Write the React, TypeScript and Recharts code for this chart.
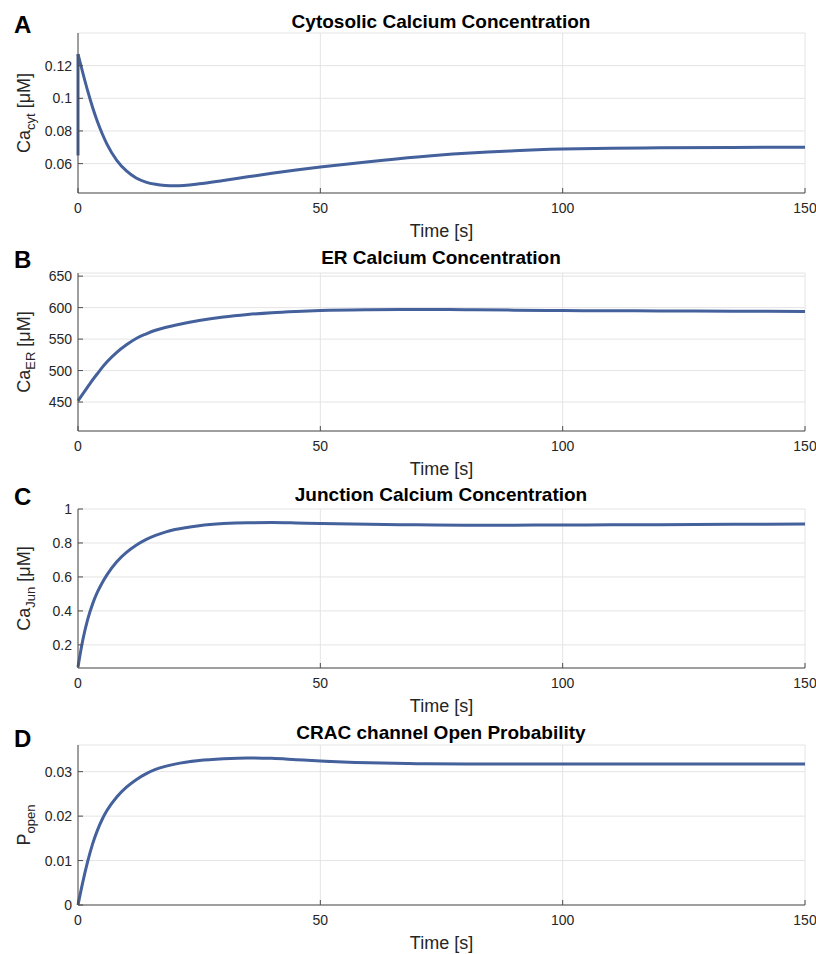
import { CartesianGrid, Line, LineChart, XAxis, YAxis } from "recharts";

const FONT = '"Liberation Sans", Arial, Helvetica, sans-serif';
const LINE_COLOR = "#44619c";
const AXIS_COLOR = "#4d4d4d";
const TEXT_COLOR = "#262626";

const timeTicks = [0, 50, 100, 150];

// simulation time points [s]
const timePoints = [
  0, 1, 2, 3, 4, 5, 6, 8, 10, 12, 14, 16, 18, 20, 25, 30, 35, 40, 45, 50, 60,
  70, 80, 90, 100, 110, 120, 135, 150,
];

// A: cytosolic Ca [uM]
const cytJumpTime = [0, 0];
const cytJumpValues = [0.065, 0.127];
const cytValues = [
  0.127, 0.1155, 0.1045, 0.0945, 0.0858, 0.0783, 0.0718, 0.062, 0.0555, 0.0512,
  0.0487, 0.0473, 0.0466, 0.0464, 0.0476, 0.0497, 0.0519, 0.0541, 0.0561, 0.0579,
  0.0612, 0.0641, 0.0663, 0.0679, 0.0689, 0.0694, 0.0697, 0.0699, 0.07,
];
const cytTicks = [0.06, 0.08, 0.1, 0.12];

// B: ER Ca [uM]
const erValues = [
  452, 463, 474, 485, 495, 505, 514, 529, 541, 551, 558, 564, 568.5, 572, 579.5,
  585, 589, 592, 594, 595.5, 596.8, 597.2, 596.8, 596, 595.3, 595, 594.7, 594.3,
  594,
];
const erTicks = [450, 500, 550, 600, 650];

// C: junction Ca [uM]
const junValues = [
  0.07, 0.23, 0.35, 0.44, 0.51, 0.566, 0.614, 0.69, 0.745, 0.787, 0.82, 0.845,
  0.864, 0.879, 0.902, 0.914, 0.919, 0.92, 0.918, 0.915, 0.91, 0.907, 0.905,
  0.905, 0.906, 0.907, 0.908, 0.91, 0.911,
];
const junTicks = [0.2, 0.4, 0.6, 0.8, 1];

// D: CRAC open probability
const openValues = [
  0, 0.0052, 0.0098, 0.0137, 0.0168, 0.0193, 0.0213, 0.0243, 0.0265, 0.0282,
  0.0295, 0.0305, 0.0312, 0.0317, 0.0325, 0.0329, 0.0331, 0.033, 0.0327, 0.0324,
  0.032, 0.0318, 0.0317, 0.0317, 0.0317, 0.0317, 0.0317, 0.0317, 0.0317,
];
const openTicks = [0, 0.01, 0.02, 0.03];

const titles = [
  { letter: "A", title: "Cytosolic Calcium Concentration", letterY: 33, titleY: 28 },
  { letter: "B", title: "ER Calcium Concentration", letterY: 268, titleY: 264 },
  { letter: "C", title: "Junction Calcium Concentration", letterY: 505, titleY: 501 },
  { letter: "D", title: "CRAC channel Open Probability", letterY: 747, titleY: 739 },
];

const toRows = (times: number[], values: number[]) =>
  times.map((t, i) => ({ t, v: values[i] }));

const renderTimeLabel = (props: any) => {
  const vb = props.viewBox || {};
  return (
    <text
      x={vb.x + vb.width / 2}
      y={vb.y + 44}
      textAnchor="middle"
      fontSize={18}
      fontFamily={FONT}
      fill={TEXT_COLOR}
    >
      Time [s]
    </text>
  );
};

// rotated y label with a subscript, e.g. Ca_cyt [uM]
const makeYLabel = (main: string, sub: string, unit: string) => (props: any) => {
  const vb = props.viewBox || {};
  const x = 30;
  const y = vb.y + vb.height / 2;
  return (
    <text
      x={x}
      y={y}
      transform={`rotate(-90, ${x}, ${y})`}
      textAnchor="middle"
      fontSize={18}
      fontFamily={FONT}
      fill={TEXT_COLOR}
    >
      {main}
      <tspan fontSize={13} dy={5}>
        {sub}
      </tspan>
      {unit && <tspan dy={-5}>{unit}</tspan>}
    </text>
  );
};

interface PanelProps {
  top: number;
  boxHeight: number;
  values: number[];
  yDomain: [number, number];
  yTicks: number[];
  yLabel: (props: any) => any;
  jump?: { t: number; v: number }[];
}

function Panel({ top, boxHeight, values, yDomain, yTicks, yLabel, jump }: PanelProps) {
  const data = toRows(timePoints, values);
  const tickStyle = { fill: TEXT_COLOR, fontSize: 14, fontFamily: FONT };
  return (
    <div style={{ position: "absolute", left: 0, top }}>
      <LineChart
        width={816}
        height={33 + boxHeight + 50}
        data={data}
        margin={{ top: 33, right: 11, bottom: 0, left: 28 }}
      >
        <CartesianGrid stroke="#e4e4e4" />
        <XAxis
          dataKey="t"
          type="number"
          domain={[0, 150]}
          ticks={timeTicks}
          height={50}
          stroke={AXIS_COLOR}
          tickSize={-5}
          tickMargin={15}
          tick={tickStyle}
          label={renderTimeLabel}
        />
        <XAxis
          xAxisId="top"
          orientation="top"
          dataKey="t"
          type="number"
          domain={[0, 150]}
          ticks={timeTicks}
          height={0}
          stroke={AXIS_COLOR}
          tickSize={-5}
          tickFormatter={() => ""}
        />
        <YAxis
          type="number"
          domain={yDomain}
          ticks={yTicks}
          width={50}
          stroke={AXIS_COLOR}
          tickSize={-5}
          tickMargin={11}
          tick={tickStyle}
          tickFormatter={(v: number) => String(v)}
          label={yLabel}
        />
        <YAxis
          yAxisId="right"
          orientation="right"
          type="number"
          domain={yDomain}
          ticks={yTicks}
          width={0}
          stroke={AXIS_COLOR}
          tickSize={-5}
          tickFormatter={() => ""}
        />
        {jump && (
          <Line
            data={jump}
            dataKey="v"
            type="linear"
            stroke={LINE_COLOR}
            strokeWidth={3}
            dot={false}
            isAnimationActive={false}
          />
        )}
        <Line
          dataKey="v"
          type="monotone"
          stroke={LINE_COLOR}
          strokeWidth={3}
          dot={false}
          isAnimationActive={false}
        />
      </LineChart>
    </div>
  );
}

export default function App() {
  return (
    <div
      style={{
        position: "absolute",
        left: 0,
        top: 0,
        width: 816,
        height: 954,
        background: "#fff",
        fontFamily: FONT,
      }}
    >
      <Panel
        top={0}
        boxHeight={160}
        values={cytValues}
        yDomain={[0.042, 0.14]}
        yTicks={cytTicks}
        yLabel={makeYLabel("Ca", "cyt", " [μM]")}
        jump={toRows(cytJumpTime, cytJumpValues)}
      />
      <Panel
        top={240}
        boxHeight={158}
        values={erValues}
        yDomain={[404, 655]}
        yTicks={erTicks}
        yLabel={makeYLabel("Ca", "ER", " [μM]")}
      />
      <Panel
        top={476}
        boxHeight={159}
        values={junValues}
        yDomain={[0.064, 1.0]}
        yTicks={junTicks}
        yLabel={makeYLabel("Ca", "Jun", " [μM]")}
      />
      <Panel
        top={712}
        boxHeight={160}
        values={openValues}
        yDomain={[0, 0.036]}
        yTicks={openTicks}
        yLabel={makeYLabel("P", "open", "")}
      />
      <svg
        width={816}
        height={954}
        style={{ position: "absolute", left: 0, top: 0, pointerEvents: "none" }}
      >
        {titles.map((p) => (
          <g key={p.letter}>
            <text x={14} y={p.letterY} fontSize={24} fontWeight="bold" fontFamily={FONT} fill="#000">
              {p.letter}
            </text>
            <text
              x={441}
              y={p.titleY}
              textAnchor="middle"
              fontSize={19}
              fontWeight="bold"
              fontFamily={FONT}
              fill="#000"
            >
              {p.title}
            </text>
          </g>
        ))}
      </svg>
    </div>
  );
}
